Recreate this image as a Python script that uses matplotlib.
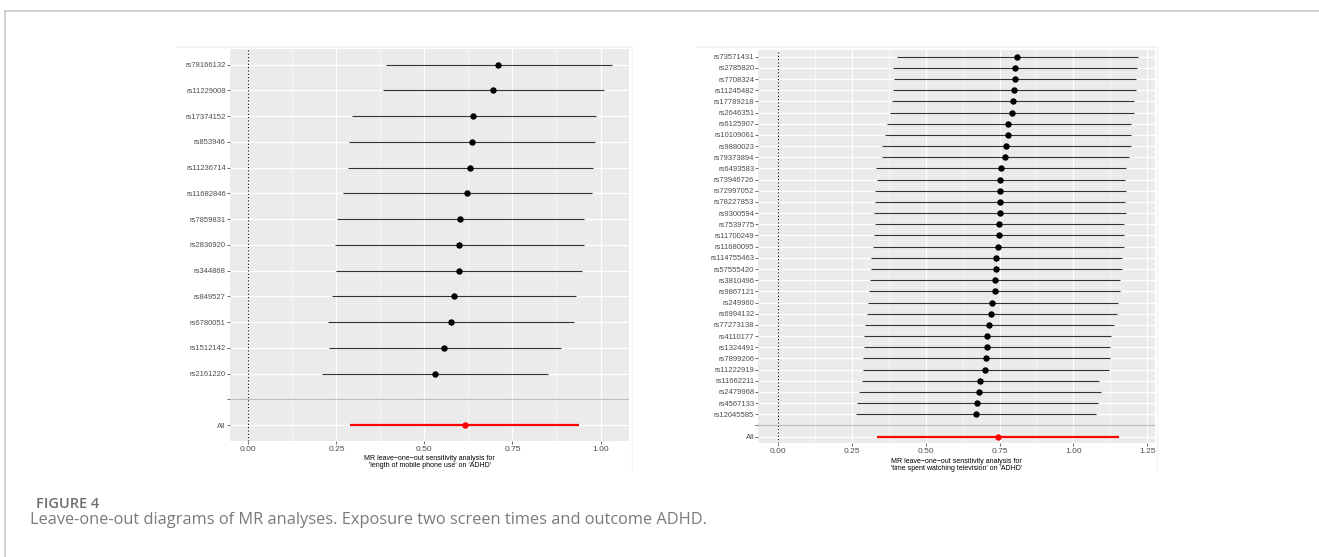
import numpy as np
import matplotlib.pyplot as plt
from matplotlib.ticker import MultipleLocator
from matplotlib.lines import Line2D

plt.rcParams['font.family'] = ['Liberation Sans', 'DejaVu Sans']

# left panel: length of mobile phone use -> ADHD (top to bottom)
snps_phone = ['rs78166132', 'rs11229008', 'rs17374152', 'rs853946', 'rs11236714',
              'rs11682846', 'rs7859831', 'rs2836920', 'rs344868', 'rs849527',
              'rs6780051', 'rs1512142', 'rs2161220']
b_phone = [0.710, 0.694, 0.639, 0.634, 0.630, 0.621, 0.602, 0.599, 0.597, 0.583,
           0.575, 0.557, 0.530]
lo_phone = [0.391, 0.381, 0.294, 0.286, 0.282, 0.268, 0.253, 0.246, 0.248, 0.238,
            0.226, 0.228, 0.210]
hi_phone = [1.032, 1.011, 0.988, 0.984, 0.980, 0.976, 0.952, 0.952, 0.947, 0.930,
            0.926, 0.889, 0.850]
all_phone = (0.614, 0.290, 0.939)

# right panel: time spent watching television -> ADHD (top to bottom)
snps_tv = ['rs73571431', 'rs2785820', 'rs7708324', 'rs11245482', 'rs17789218',
           'rs2646351', 'rs6125907', 'rs10109061', 'rs9880023', 'rs79373894',
           'rs6493583', 'rs73946726', 'rs72997052', 'rs78227853', 'rs9300594',
           'rs7539775', 'rs11700249', 'rs11680095', 'rs114755463', 'rs57555420',
           'rs3810496', 'rs9867121', 'rs249960', 'rs6994132', 'rs77273138',
           'rs4110177', 'rs1324491', 'rs7899206', 'rs11222919', 'rs11662211',
           'rs2479968', 'rs4567133', 'rs12045585']
b_tv = [0.808, 0.801, 0.801, 0.798, 0.795, 0.791, 0.779, 0.777, 0.772, 0.769,
        0.754, 0.753, 0.752, 0.751, 0.751, 0.748, 0.747, 0.746, 0.738, 0.738,
        0.735, 0.733, 0.726, 0.722, 0.715, 0.708, 0.707, 0.704, 0.702, 0.684,
        0.682, 0.674, 0.670]
lo_tv = [0.402, 0.389, 0.392, 0.388, 0.387, 0.381, 0.369, 0.361, 0.354, 0.353,
         0.333, 0.335, 0.329, 0.329, 0.327, 0.329, 0.326, 0.322, 0.316, 0.316,
         0.312, 0.310, 0.304, 0.301, 0.295, 0.291, 0.291, 0.289, 0.287, 0.285,
         0.275, 0.268, 0.265]
hi_tv = [1.217, 1.215, 1.212, 1.211, 1.206, 1.204, 1.194, 1.196, 1.195, 1.188,
         1.179, 1.174, 1.178, 1.176, 1.177, 1.170, 1.170, 1.170, 1.164, 1.163,
         1.159, 1.156, 1.150, 1.147, 1.137, 1.126, 1.125, 1.123, 1.119, 1.085,
         1.092, 1.083, 1.076]
all_tv = (0.744, 0.334, 1.155)

xlabel_phone = "MR leave\u2212one\u2212out sensitivity analysis for\n'length of mobile phone use' on 'ADHD'"
xlabel_tv = "MR leave\u2212one\u2212out sensitivity analysis for\n'time spent watching television' on 'ADHD'"


def loo_plot(ax, snps, b, lo, hi, allv, xlim, xmax_tick):
    n = len(snps)
    # ggplot style factor: All=1, blank=2, snps 3..n+2 (last snp at bottom)
    ypos = np.arange(n + 2, 2, -1)
    ax.set_facecolor('#EBEBEB')
    for s in ax.spines.values():
        s.set_visible(False)
    ax.set_xlim(*xlim)
    ax.set_ylim(0.4, n + 2.6)
    ax.xaxis.set_major_locator(MultipleLocator(0.25))
    ax.xaxis.set_minor_locator(MultipleLocator(0.125))
    ax.grid(which='major', color='white', lw=0.9)
    ax.grid(which='minor', axis='x', color='white', lw=0.45)
    ax.set_axisbelow(True)
    ax.axvline(0, color='black', ls=(0, (1, 2)), lw=0.8, zorder=2)
    ax.axhline(2, color='#BEBEBE', lw=0.9, zorder=2)
    ax.hlines(ypos, lo, hi, color='#333333', lw=0.8, zorder=3)
    ax.plot(b, ypos, 'o', color='black', ms=3.6, zorder=4)
    ax.hlines(1, allv[1], allv[2], color='red', lw=1.6, zorder=3)
    ax.plot(allv[0], 1, 'o', color='red', ms=3.6, zorder=4)
    ax.set_yticks([1, 2] + list(ypos))
    ax.set_yticklabels(['All', ''] + snps)
    ax.set_xticks(np.arange(0, xmax_tick + 0.01, 0.25))
    ax.set_xticklabels(['%.2f' % v for v in np.arange(0, xmax_tick + 0.01, 0.25)])
    ax.tick_params(axis='y', which='major', labelsize=5.5, labelcolor='#4D4D4D',
                   color='#333333', length=2, width=0.5, pad=1)
    ax.tick_params(axis='x', which='major', labelsize=6, labelcolor='#4D4D4D',
                   color='#333333', length=2, width=0.5, pad=1.5)
    ax.tick_params(axis='x', which='minor', length=0)


fig = plt.figure(figsize=(13.19, 5.57), dpi=100)

ax1 = fig.add_axes([0.1744, 0.2088, 0.3025, 0.7027])
loo_plot(ax1, snps_phone, b_phone, lo_phone, hi_phone, all_phone, (-0.052, 1.081), 1.0)
ax1.set_xlabel(xlabel_phone, fontsize=5, labelpad=2, linespacing=1.0)

ax2 = fig.add_axes([0.5749, 0.2041, 0.3008, 0.7061])
loo_plot(ax2, snps_tv, b_tv, lo_tv, hi_tv, all_tv, (-0.066, 1.276), 1.25)
ax2.set_xlabel(xlabel_tv, fontsize=5, labelpad=2, linespacing=1.0)

# faint outlines of the embedded plot images
for x0, x1 in [(178, 632), (697, 1157)]:
    fig.add_artist(Line2D([x0 / 1319, x1 / 1319], [1 - 47 / 557] * 2,
                          color='#F0F0F0', lw=1.2))
    fig.add_artist(Line2D([x1 / 1319] * 2, [1 - 47 / 557, 1 - 470 / 557],
                          color='#F4F4F4', lw=1.0))

# page frame
fig.add_artist(Line2D([5 / 1319, 1], [1 - 11 / 557] * 2, color='#C8C8C8', lw=1.2))
fig.add_artist(Line2D([5 / 1319] * 2, [0, 1 - 11 / 557], color='#C8C8C8', lw=1.2))

fig.text(36 / 1319, 1 - 504 / 557, 'FIGURE 4', fontsize=10.5, color='#6E6E6E',
         family=['Open Sans', 'DejaVu Sans'], fontweight='semibold', va='center')
fig.text(30 / 1319, 1 - 520 / 557,
         'Leave-one-out diagrams of MR analyses. Exposure two screen times and outcome ADHD.',
         fontsize=11.8, color='#7A7A7A', family=['Open Sans', 'DejaVu Sans'], va='center')

fig.savefig('out.png', dpi=100)
